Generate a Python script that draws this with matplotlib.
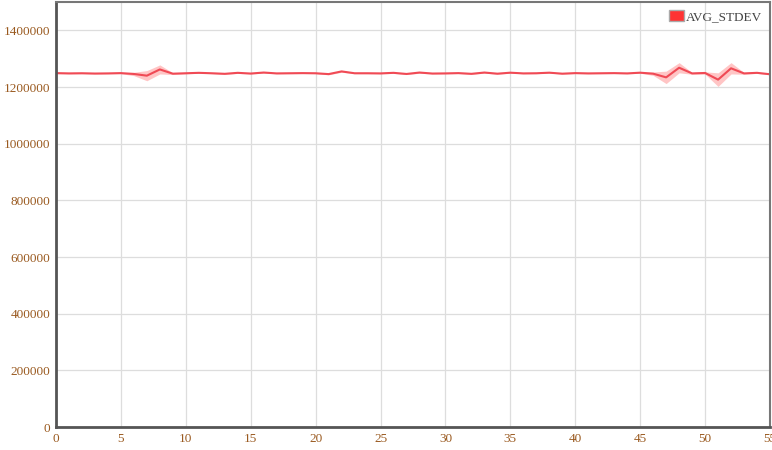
import matplotlib.pyplot as plt
import numpy as np
from matplotlib.ticker import FuncFormatter

# x positions (0..55) and averages / standard deviations
xs = list(range(56))
avg = [1249000, 1248000, 1248500, 1247500, 1248000, 1249000, 1246000, 1240000, 1262000, 1247000,
       1248500, 1250000, 1248500, 1246500, 1250000, 1247500, 1251000, 1248000, 1248500, 1249000,
       1248500, 1245500, 1255000, 1248500, 1248500, 1248000, 1250000, 1246000, 1251000, 1247500,
       1248000, 1249000, 1246500, 1251000, 1247000, 1250500, 1248000, 1248500, 1250500, 1247000,
       1249000, 1248000, 1248500, 1249000, 1248000, 1250500, 1247000, 1234000, 1268000, 1248000,
       1249500, 1226000, 1266000, 1248000, 1250000, 1245000]
std = [2000, 1500, 1500, 1500, 1500, 2000, 6000, 18000, 16000, 3000,
       2000, 1500, 1500, 2000, 2000, 1500, 2000, 1500, 1500, 1500,
       1500, 2500, 3000, 1500, 1500, 1500, 2000, 2000, 2500, 1500,
       1500, 1500, 2000, 2000, 2000, 1500, 1500, 1500, 1500, 1500,
       1500, 1500, 1500, 1500, 1500, 2000, 6000, 22000, 18000, 3000,
       4000, 24000, 20000, 3000, 2000, 2000]

avg = np.array(avg)
std = np.array(std)

plt.rcParams['font.family'] = ['Liberation Serif', 'DejaVu Serif']
fig = plt.figure(figsize=(7.72, 4.5), dpi=100)
ax = fig.add_axes([56 / 772, 23 / 450, 714 / 772, 425 / 450])

ax.fill_between(xs, avg - std, avg + std, color='#ff8080', alpha=0.45, linewidth=0)
ax.plot(xs, avg, color='#f04a55', linewidth=1.5, label='AVG_STDEV')

ax.set_xlim(0, 55)
ax.set_ylim(0, 1500000)
ax.set_xticks(range(0, 56, 5))
ax.set_yticks(range(0, 1400001, 200000))
ax.yaxis.set_major_formatter(FuncFormatter(lambda v, p: '%d' % v))
ax.grid(True, color='#dddddd', linewidth=0.9)
ax.set_axisbelow(True)
ax.tick_params(length=0, labelsize=9.5, labelcolor='#9a5a20', pad=4)

for side in ['left', 'bottom']:
    ax.spines[side].set_color('#555555')
    ax.spines[side].set_linewidth(2)
for side in ['top', 'right']:
    ax.spines[side].set_color('#777777')
    ax.spines[side].set_linewidth(1.5)

h = [plt.Rectangle((0, 0), 1, 1, facecolor='#ff3333', edgecolor='#aaaaaa')]
leg = ax.legend(h, ['AVG_STDEV'], loc='upper right', frameon=False, fontsize=9.5,
                handlelength=1.1, handleheight=0.9, handletextpad=0.15,
                borderaxespad=0.2)
for t in leg.get_texts():
    t.set_color('#444444')

fig.savefig('out.png', dpi=100)
